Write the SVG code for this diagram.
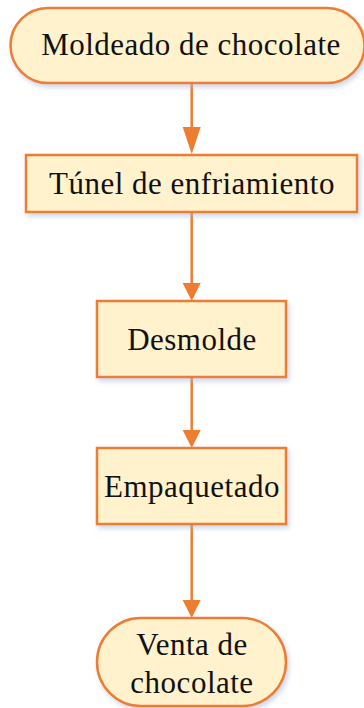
<svg xmlns="http://www.w3.org/2000/svg" width="364" height="708" viewBox="0 0 364 708">
<defs>
<filter id="sh" x="-10%" y="-10%" width="125%" height="130%">
<feGaussianBlur in="SourceAlpha" stdDeviation="2.5"/>
<feOffset dx="2" dy="3" result="b"/>
<feFlood flood-color="#9fb6d8" flood-opacity="0.55"/>
<feComposite in2="b" operator="in"/>
<feMerge><feMergeNode/><feMergeNode in="SourceGraphic"/></feMerge>
</filter>
</defs>
<style>
.n{fill:#FFF2CC;stroke:#ED7D31;stroke-width:2.5;filter:url(#sh)}
.t{font-family:"Liberation Serif","Times New Roman",serif;font-size:31px;letter-spacing:0.5px;fill:#111;text-anchor:middle}
.c{stroke:#ED7D31;stroke-width:2.5;fill:none}
.h{fill:#ED7D31}
</style>
<g id="connectors">
<line class="c" x1="191.7" y1="83" x2="191.7" y2="130"/>
<path class="h" d="M182.7,127 L200.7,127 L191.7,154 Z"/>
<line class="c" x1="191.7" y1="212" x2="191.7" y2="286"/>
<path class="h" d="M182.7,283 L200.7,283 L191.7,301 Z"/>
<line class="c" x1="191.7" y1="377" x2="191.7" y2="433"/>
<path class="h" d="M182.7,430 L200.7,430 L191.7,448 Z"/>
<line class="c" x1="191.7" y1="524" x2="191.7" y2="603"/>
<path class="h" d="M182.7,600 L200.7,600 L191.7,618 Z"/>
</g>
<g id="n1">
<rect class="n" x="10.5" y="8" width="354" height="75" rx="37.5"/>
<text class="t" x="191" y="55">Moldeado de chocolate</text>
</g>
<g id="n2">
<rect class="n" x="26" y="155" width="331" height="57"/>
<text class="t" x="192" y="194">Túnel de enfriamiento</text>
</g>
<g id="n3">
<rect class="n" x="97" y="301" width="189" height="76"/>
<text class="t" x="192" y="350">Desmolde</text>
</g>
<g id="n4">
<rect class="n" x="97" y="448" width="189" height="76"/>
<text class="t" x="192" y="497">Empaquetado</text>
</g>
<g id="n5">
<rect class="n" x="97" y="618" width="189" height="88" rx="44"/>
<text class="t" x="192" y="655">Venta de</text>
<text class="t" x="192" y="693">chocolate</text>
</g>
</svg>
